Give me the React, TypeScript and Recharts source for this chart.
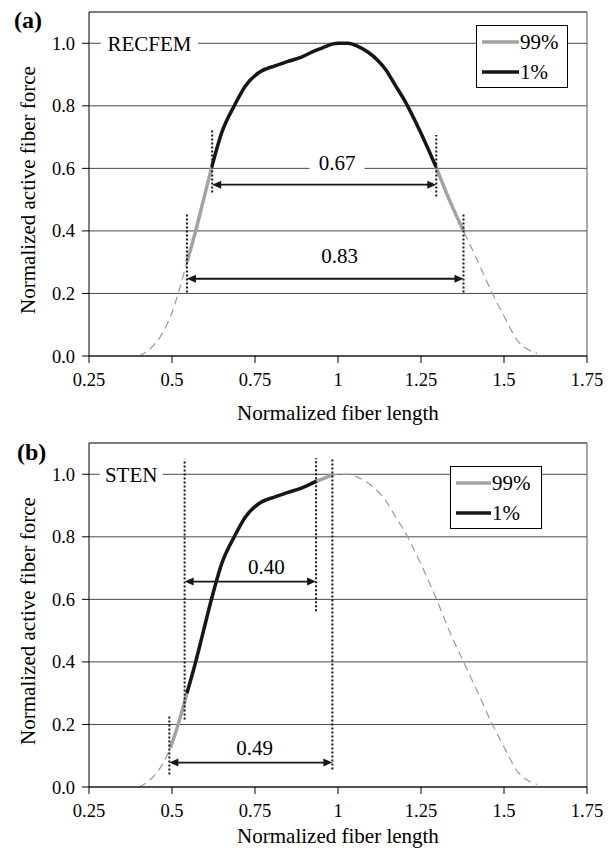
import { LineChart, Line, XAxis, YAxis, CartesianGrid, ReferenceLine, ReferenceDot, Legend } from "recharts";

// force-length curve (same base curve in both panels)
const fiberLength = [
  0.4, 0.425, 0.45, 0.475, 0.495, 0.52, 0.545, 0.57, 0.595, 0.62, 0.65, 0.69, 0.72, 0.76, 0.81, 0.85, 0.89,
  0.935, 0.95, 0.985, 1.0, 1.03, 1.06, 1.09, 1.12, 1.145, 1.17, 1.2, 1.25, 1.295, 1.335, 1.378, 1.42, 1.465,
  1.505, 1.54, 1.57, 1.6,
];
const activeForce = [
  0.0, 0.015, 0.04, 0.08, 0.125, 0.205, 0.3, 0.395, 0.5, 0.605, 0.715, 0.805, 0.862, 0.905, 0.928, 0.942, 0.956,
  0.978, 0.984, 0.998, 1.0, 1.0, 0.99, 0.972, 0.945, 0.914, 0.87, 0.818, 0.712, 0.605, 0.5, 0.4, 0.305, 0.2,
  0.118, 0.05, 0.022, 0.008,
];

const xTicks = [0.25, 0.5, 0.75, 1, 1.25, 1.5, 1.75];
const yTicks = [0, 0.2, 0.4, 0.6, 0.8, 1.0];

// panel (a) RECFEM
const recfemGray = [[0.545, 0.62], [1.295, 1.378]];
const recfemBlack = [0.62, 1.295];
const recfemGuides = [
  { x: 0.621, from: 0.523, to: 0.723 },
  { x: 1.296, from: 0.51, to: 0.707 },
  { x: 0.545, from: 0.203, to: 0.458 },
  { x: 1.378, from: 0.203, to: 0.458 },
];
const recfemSpans = [
  { from: 0.621, to: 1.296, y: 0.548, label: "0.67", lx: 0.997, ly: 0.617 },
  { from: 0.545, to: 1.378, y: 0.247, label: "0.83", lx: 1.005, ly: 0.32 },
];

// panel (b) STEN
const stenGray = [[0.495, 0.545], [0.935, 0.985]];
const stenBlack = [0.545, 0.935];
const stenGuides = [
  { x: 0.538, from: 0.216, to: 1.048 },
  { x: 0.934, from: 0.562, to: 1.051 },
  { x: 0.983, from: 0.056, to: 1.048 },
  { x: 0.492, from: 0.04, to: 0.232 },
];
const stenSpans = [
  { from: 0.538, to: 0.934, y: 0.657, label: "0.40", lx: 0.784, ly: 0.705 },
  { from: 0.492, to: 0.983, y: 0.078, label: "0.49", lx: 0.749, ly: 0.126 },
];

const FONT = "Liberation Serif, serif";
const GRAY = "#a3a3a3";
const BLACK = "#161616";
const txt = { fontFamily: FONT };

const curve = fiberLength.map((x, i) => ({ x, y: activeForce[i] }));
const part = (r: number[]) => curve.filter((p) => p.x >= r[0] - 1e-9 && p.x <= r[1] + 1e-9);

const arrowShape = (p: any) => {
  const { x1, y1, x2, y2 } = p;
  const h = 9;
  const w = 4;
  return (
    <g>
      <line x1={x1 + h - 1} y1={y1} x2={x2 - h + 1} y2={y2} stroke={BLACK} strokeWidth={1.8} />
      <polygon points={`${x1},${y1} ${x1 + h},${y1 - w} ${x1 + h},${y1 + w}`} fill={BLACK} />
      <polygon points={`${x2},${y2} ${x2 - h},${y2 - w} ${x2 - h},${y2 + w}`} fill={BLACK} />
    </g>
  );
};

const boxedText = (text: string, size: number, boxW: number) => (p: any) => {
  const { cx, cy } = p;
  return (
    <g>
      <rect x={cx - boxW / 2} y={cy - size * 0.55} width={boxW} height={size * 1.1} fill="#fff" />
      <text x={cx} y={cy} dy="0.35em" textAnchor="middle" fontSize={size} style={txt} fill="#000">
        {text}
      </text>
    </g>
  );
};

const legendBox = (lineEnd: number) => () => (
  <svg width={92} height={63} style={{ display: "block" }}>
    <rect x={0.5} y={0.5} width={91} height={62} fill="#fff" stroke="#000" />
    <line x1={6} x2={lineEnd} y1={17} y2={17} stroke={GRAY} strokeWidth={3.5} />
    <text x={lineEnd + 1} y={17} dy="0.35em" fontSize={21} style={txt} fill="#000">99%</text>
    <line x1={6} x2={lineEnd} y1={47} y2={47} stroke={BLACK} strokeWidth={3.5} />
    <text x={lineEnd + 1} y={47} dy="0.35em" fontSize={21} style={txt} fill="#000">1%</text>
  </svg>
);

function Panel(props: any) {
  const { tag, tagLeft, tagTop, name, nameX, nameW, height, top, gray, black, guides, spans, legendLeft, legendTop, legendLine, titleGap } = props;
  const plotH = 344;
  const xAxisH = height - top - plotH;
  return (
    <div style={{ position: "relative", width: 598, height, fontFamily: FONT }}>
      <LineChart width={598} height={height} margin={{ top, right: 19, bottom: 0, left: 0 }} style={txt}>
        <CartesianGrid vertical={false} stroke="#4a4a4a" strokeWidth={1} />
        <XAxis
          type="number"
          dataKey="x"
          domain={[0.25, 1.75]}
          ticks={xTicks}
          allowDataOverflow
          height={xAxisH}
          tickSize={7}
          tickMargin={10}
          stroke="#000"
          tick={{ fill: "#000", fontSize: 18.5, style: txt }}
          label={(p: any) => {
            const vb = p.viewBox;
            return (
              <text x={vb.x + vb.width / 2} y={vb.y + vb.height - titleGap} textAnchor="middle" fontSize={21} style={txt} fill="#000">
                Normalized fiber length
              </text>
            );
          }}
        />
        <YAxis
          type="number"
          dataKey="y"
          domain={[0, 1.1]}
          ticks={yTicks}
          allowDataOverflow
          width={81}
          tickSize={7}
          tickMargin={7}
          stroke="#000"
          tickFormatter={(v: number) => v.toFixed(1)}
          tick={{ fill: "#000", fontSize: 18.5, style: txt }}
          label={(p: any) => {
            const vb = p.viewBox;
            const cx = vb.x + 20;
            const cy = vb.y + vb.height / 2 + 6;
            return (
              <text x={cx} y={cy} transform={`rotate(-90 ${cx} ${cy})`} dy="0.35em" textAnchor="middle" fontSize={21} style={txt} fill="#000">
                Normalized active fiber force
              </text>
            );
          }}
        />
        <ReferenceLine y={1.1} stroke="#555" strokeWidth={1} />
        <ReferenceLine x={1.75} stroke="#555" strokeWidth={1} />
        <ReferenceDot x={nameX} y={1.0} r={0} shape={boxedText(name, 21, nameW)} />
        {spans.map((s: any) => (
          <ReferenceDot key={"l" + s.label} x={s.lx} y={s.ly} r={0} shape={boxedText(s.label, 21, 55)} />
        ))}
        <Line
          data={curve}
          dataKey="y"
          type="monotone"
          stroke="#9a9a9a"
          strokeWidth={1.2}
          strokeDasharray="8 5"
          dot={false}
          isAnimationActive={false}
        />
        {gray.map((r: number[], i: number) => (
          <Line key={"g" + i} data={part(r)} dataKey="y" type="monotone" stroke={GRAY} strokeWidth={3.5} dot={false} isAnimationActive={false} />
        ))}
        <Line data={part(black)} dataKey="y" type="monotone" stroke={BLACK} strokeWidth={3.5} dot={false} isAnimationActive={false} />
        {guides.map((g: any, i: number) => (
          <ReferenceLine
            key={"d" + i}
            segment={[{ x: g.x, y: g.from }, { x: g.x, y: g.to }]}
            stroke={BLACK}
            strokeWidth={2}
            strokeDasharray="2 2"
          />
        ))}
        {spans.map((s: any) => (
          <ReferenceLine key={"a" + s.label} segment={[{ x: s.from, y: s.y }, { x: s.to, y: s.y }]} shape={arrowShape} />
        ))}
        <Legend
          layout="vertical"
          align="center"
          verticalAlign="middle"
          content={legendBox(legendLine)}
          wrapperStyle={{ position: "absolute", left: legendLeft, top: legendTop, width: 92, height: 63 }}
        />
      </LineChart>
      <div
        style={{ position: "absolute", left: tagLeft, top: tagTop, fontFamily: FONT, fontWeight: "bold", fontSize: 24, lineHeight: "26px" }}
      >
        {tag}
      </div>
    </div>
  );
}

export default function App() {
  return (
    <div style={{ width: 598 }}>
      <Panel
        tag="(a)"
        tagLeft={6}
        tagTop={-1}
        name="RECFEM"
        nameX={0.432}
        nameW={97}
        height={418}
        top={4}
        titleGap={6}
        gray={recfemGray}
        black={recfemBlack}
        guides={recfemGuides}
        spans={recfemSpans}
        legendLeft={468}
        legendTop={17}
        legendLine={43}
      />
      <Panel
        tag="(b)"
        tagLeft={9}
        tagTop={13}
        name="STEN"
        nameX={0.377}
        nameW={63}
        height={425}
        top={17}
        titleGap={8}
        gray={stenGray}
        black={stenBlack}
        guides={stenGuides}
        spans={stenSpans}
        legendLeft={442}
        legendTop={40}
        legendLine={41}
      />
    </div>
  );
}
